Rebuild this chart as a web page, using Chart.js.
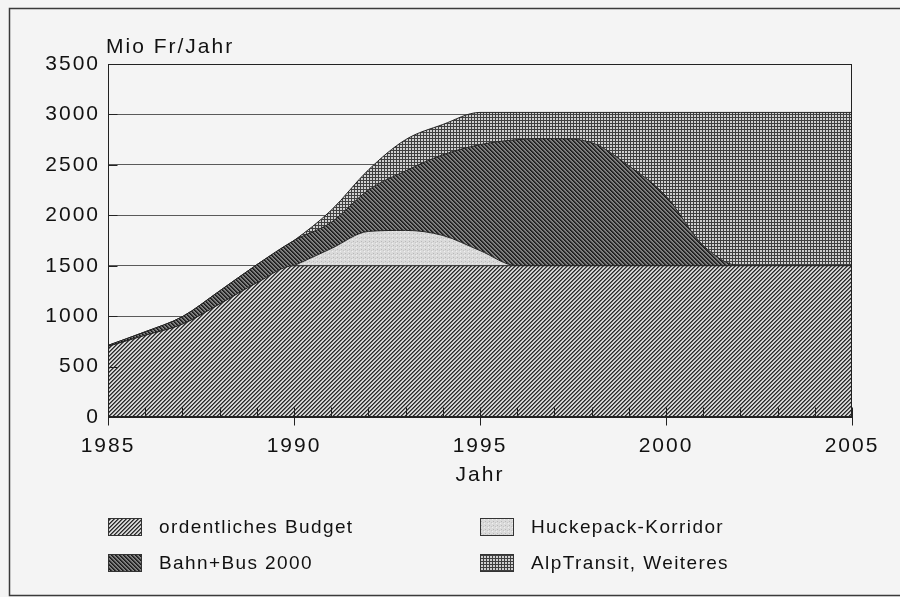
<!DOCTYPE html>
<html>
<head>
<meta charset="utf-8">
<script src="https://cdn.jsdelivr.net/npm/chart.js@4/dist/chart.umd.min.js"></script>
<style>
  html, body { margin: 0; padding: 0; background: #f4f4f4; }
  canvas { display: block; }
</style>
</head>
<body>
<canvas id="c" width="900" height="597"></canvas>
<script>
// ---- data (Mio Fr/Jahr), stacked components ----
const years       = [1985,1986,1987,1988,1989,1990,1991,1992,1993,1994,1995,1996,1997,1998,1999,2000,2001,2002,2003,2004,2005];
const budget      = [ 700, 810, 920,1120,1330,1500,1500,1500,1500,1500,1500,1500,1500,1500,1500,1500,1500,1500,1500,1500,1500];
const huckepack   = [   0,   0,   0,   0,   0,   0, 170, 340, 350, 300, 150,   0,   0,   0,   0,   0,   0,   0,   0,   0,   0];
const bahnBus     = [  10,  35,  75, 130, 180, 250, 260, 410, 590, 800,1050,1250,1260,1220, 990, 690, 200,   0,   0,   0,   0];
const alpTransit  = [   0,   0,   0,   0,   0,   0, 120, 200, 310, 300, 320, 270, 260, 300, 530, 830,1320,1520,1520,1520,1520];
const seriesLabels = ['ordentliches Budget', 'Huckepack-Korridor', 'Bahn+Bus 2000', 'AlpTransit, Weiteres'];
const yTicks = [0,500,1000,1500,2000,2500,3000,3500];
const xTickLabels = [1985,1990,1995,2000,2005];
const yUnit = 'Mio Fr/Jahr';
const xTitle = 'Jahr';

// ---- fill patterns ----
function makePattern(size, colorFn) {
  const c = document.createElement('canvas');
  c.width = size; c.height = size;
  const g = c.getContext('2d');
  for (let y = 0; y < size; y++) for (let x = 0; x < size; x++) {
    g.fillStyle = colorFn(x, y); g.fillRect(x, y, 1, 1);
  }
  return g.createPattern(c, 'repeat');
}
const pBudget = makePattern(4, (x, y) => ['#2a2a2a', '#686868', '#dedede', '#c6c6c6'][(x + y) % 4]);
const pBahn   = makePattern(4, (x, y) => ['#1a1a1a', '#363636', '#727272', '#888888'][(x - y + 8) % 4]);
const pHuck   = makePattern(4, (x, y) => {
  if (x === 1 && y === 1) return '#b8b8b8';
  if (x === 3 && y === 2) return '#c6c6c6';
  if (x === 0 && y === 3) return '#efefef';
  return '#dadada';
});
const pAlp    = makePattern(3, (x, y) => (x === 0 || y === 0) ? '#404040' : '#d0d0d0');
const patterns = [pBudget, pHuck, pBahn, pAlp];

const FONT = 'Liberation Sans';
const TXT = '#111111';
Chart.defaults.font.family = FONT;
Chart.defaults.color = TXT;

const seriesData = [budget, huckepack, bahnBus, alpTransit];
const datasets = seriesData.map((arr, i) => ({
  label: seriesLabels[i],
  data: arr.map((v, j) => ({ x: years[j], y: v })),
  backgroundColor: patterns[i],
  borderColor: '#222222',
  borderWidth: 1,
  fill: i === 0 ? 'origin' : '-1',
  pointRadius: 0,
  cubicInterpolationMode: 'monotone'
}));

const decor = {
  id: 'decor',
  beforeUpdate(chart) { chart.ctx.letterSpacing = '2px'; },
  beforeDraw(chart) {
    const c = chart.ctx;
    c.save();
    c.fillStyle = '#f4f4f4';
    c.fillRect(0, 0, chart.width, chart.height);
    c.strokeStyle = '#3a3a3a';
    c.lineWidth = 1.5;
    c.strokeRect(9.5, 8.5, chart.width + 10, chart.height - 10);
    c.restore();
    c.letterSpacing = '2px';
  },
  afterDatasetsDraw(chart) {
    const { ctx: c, chartArea: a, scales: { x, y } } = chart;
    c.save();
    c.strokeStyle = '#222222';
    c.lineWidth = 1;
    const L = Math.round(a.left) + 0.5, R = Math.round(a.right) - 0.5;
    const T = Math.round(a.top) + 0.5, B = Math.round(a.bottom) - 0.5;
    c.strokeRect(L, T, R - L, B - T);
    c.beginPath();
    for (const yr of years) {
      const px = Math.round(x.getPixelForValue(yr)) + 0.5;
      const major = yr % 5 === 0;
      c.moveTo(px, B - 9);
      c.lineTo(px, major ? B + 9 : B);
    }
    for (const v of yTicks) {
      const py = Math.round(y.getPixelForValue(v)) + 0.5;
      c.moveTo(L, py); c.lineTo(L + 9, py);
    }
    c.stroke();
    c.restore();
  },
  afterDraw(chart) {
    const { ctx: c, chartArea: a } = chart;
    c.save();
    c.letterSpacing = '2px';
    c.fillStyle = TXT;
    c.font = '21px "' + FONT + '"';
    c.textAlign = 'left';
    c.textBaseline = 'alphabetic';
    c.fillText(yUnit, a.left - 2, 52.5);

    // legend
    c.letterSpacing = '1.4px';
    c.font = '19px "' + FONT + '"';
    c.textBaseline = 'middle';
    const colX = [108, 480], rowY = [527, 563];
    chart.data.datasets.forEach((ds, i) => {
      const cx = colX[i % 2], cy = rowY[Math.floor(i / 2)];
      c.fillStyle = ds.backgroundColor;
      c.fillRect(cx, cy - 9, 34, 18);
      c.strokeStyle = '#333';
      c.lineWidth = 1;
      c.strokeRect(cx + 0.5, cy - 8.5, 33, 17);
      c.fillStyle = TXT;
      c.fillText(ds.label, cx + 51, cy + 1);
    });
    c.restore();
  }
};

new Chart(document.getElementById('c').getContext('2d'), {
  type: 'line',
  data: { datasets },
  options: {
    responsive: false,
    animation: false,
    devicePixelRatio: 1,
    layout: { padding: { left: 0, right: 48, top: 64, bottom: 109 } },
    plugins: { legend: { display: false }, tooltip: { enabled: false } },
    scales: {
      x: {
        type: 'linear', min: xTickLabels[0], max: xTickLabels[xTickLabels.length - 1],
        afterBuildTicks(s) { s.ticks = xTickLabels.map(v => ({ value: v })); },
        ticks: { font: { size: 21 }, color: TXT, padding: 17, maxRotation: 0, autoSkip: false,
                 callback: v => String(v) },
        grid: { display: false, drawTicks: false },
        border: { display: true, color: '#222222' },
        title: { display: true, text: xTitle, font: { size: 21 }, color: TXT, padding: 0 },
        afterFit(s) { s.height = 71; }
      },
      y: {
        stacked: true, min: 0, max: 3500,
        afterBuildTicks(s) { s.ticks = yTicks.map(v => ({ value: v })); },
        ticks: { font: { size: 21 }, color: TXT, padding: 8, callback: v => String(v) },
        grid: { color: '#5a5a5a', lineWidth: 1, drawTicks: false },
        border: { display: true, color: '#222222' },
        afterFit(s) { s.width = 108; }
      }
    }
  },
  plugins: [decor]
});
</script>
</body>
</html>
